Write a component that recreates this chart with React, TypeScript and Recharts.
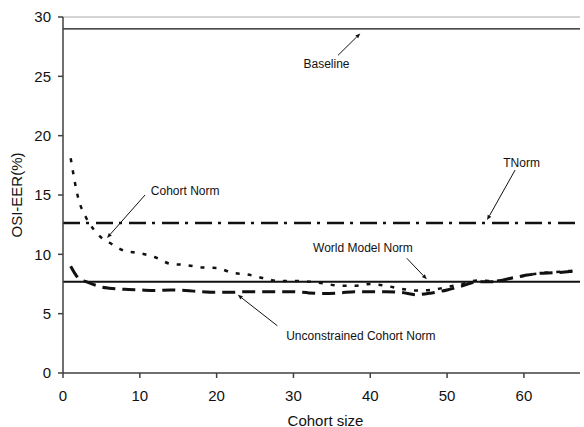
import React from 'react';
import { LineChart, Line, XAxis, YAxis, ReferenceLine, ReferenceDot } from 'recharts';

const cohortSizes = [1, 2, 3, 4, 5, 6, 8, 10, 12, 14, 16, 18, 20, 22, 24, 26, 28, 30, 32, 34, 36, 38, 40, 42, 44, 46, 48, 50, 52, 54, 56, 58, 60, 62, 64, 66, 67];
const cohortNorm = [18.1, 14.7, 13.1, 12.1, 11.4, 11.0, 10.3, 10.1, 9.75, 9.2, 9.1, 8.9, 8.85, 8.45, 8.3, 8.0, 7.75, 7.75, 7.7, 7.55, 7.35, 7.35, 7.5, 7.35, 7.1, 6.95, 7.0, 7.25, 7.5, 7.8, 7.75, 7.95, 8.2, 8.4, 8.5, 8.6, 8.65];
const unconstrainedCohortNorm = [9.0, 8.0, 7.7, 7.45, 7.25, 7.15, 7.05, 7.0, 6.95, 7.0, 6.95, 6.85, 6.8, 6.8, 6.85, 6.85, 6.85, 6.85, 6.75, 6.7, 6.75, 6.85, 6.85, 6.85, 6.8, 6.6, 6.75, 7.0, 7.35, 7.7, 7.7, 7.95, 8.2, 8.4, 8.45, 8.55, 8.6];

const baselineEER = 29;
const tnormEER = 12.65;
const worldModelEER = 7.7;

const xTicks = [0, 10, 20, 30, 40, 50, 60];
const yTicks = [0, 5, 10, 15, 20, 25, 30];

// annotations: label position and arrow (from -> to) in data units
const annotations = [
  { text: 'Baseline', lx: 34.3, ly: 26.07, fx: 35.8, fy: 26.77, tx: 38.7, ty: 28.62 },
  { text: 'TNorm', lx: 59.7, ly: 17.71, fx: 58.85, fy: 17.1, tx: 55.2, ty: 12.89 },
  { text: 'Cohort Norm', lx: 15.9, ly: 15.33, fx: 10.68, fy: 15.0, tx: 5.73, ty: 11.38 },
  { text: 'World Model Norm', lx: 39.05, ly: 10.56, fx: 44.75, fy: 9.67, tx: 47.36, ty: 7.9 },
  { text: 'Unconstrained Cohort Norm', lx: 38.78, ly: 3.08, fx: 27.9, fy: 3.98, tx: 22.75, ty: 6.59 },
];

const data = cohortSizes.map((s, i) => ({
  size: s,
  cohort: cohortNorm[i],
  unconstrained: unconstrainedCohortNorm[i],
}));

const FONT = '"Liberation Sans", Arial, sans-serif';

const Arrow = (p: any) => {
  const { x1, y1, x2, y2 } = p;
  const dx = x2 - x1;
  const dy = y2 - y1;
  const len = Math.sqrt(dx * dx + dy * dy) || 1;
  const ux = dx / len;
  const uy = dy / len;
  const hl = 5;
  const hw = 2;
  const bx = x2 - ux * hl;
  const by = y2 - uy * hl;
  const pts = `${x2},${y2} ${bx - uy * hw},${by + ux * hw} ${bx + uy * hw},${by - ux * hw}`;
  return (
    <g>
      <line x1={x1} y1={y1} x2={bx} y2={by} stroke="#111" strokeWidth={1} />
      <polygon points={pts} fill="#111" />
    </g>
  );
};

const makeLabel = (text: string) => (p: any) => (
  <text x={p.cx} y={p.cy} textAnchor="middle" dominantBaseline="central" fontFamily={FONT} fontSize={12} fill="#111">
    {text}
  </text>
);

const YLabel = (p: any) => {
  const vb = p.viewBox || { x: 0, y: 17, width: 63, height: 356 };
  const cx = vb.x + 16.5;
  const cy = vb.y + vb.height / 2;
  return (
    <text x={cx} y={cy} transform={`rotate(-90, ${cx}, ${cy})`} textAnchor="middle" dominantBaseline="central" fontFamily={FONT} fontSize={15} fill="#111">
      OSI-EER(%)
    </text>
  );
};

const XLabel = (p: any) => {
  const vb = p.viewBox || { x: 63, y: 373, width: 517, height: 54 };
  const cx = vb.x + vb.width / 2 + 4;
  const cy = vb.y + 47;
  return (
    <text x={cx} y={cy} textAnchor="middle" dominantBaseline="central" fontFamily={FONT} fontSize={15} fill="#111">
      Cohort size
    </text>
  );
};

export default function App() {
  return (
    <div style={{ position: 'absolute', left: 0, top: 0, background: '#fff' }}>
      <LineChart width={584} height={427} data={data} margin={{ top: 17, right: 4, left: 0, bottom: 0 }}>
        <XAxis
          type="number"
          dataKey="size"
          domain={[0, 67.3]}
          ticks={xTicks}
          allowDataOverflow
          height={54}
          tickSize={5}
          tickMargin={12}
          stroke="#404040"
          strokeWidth={1.5}
          tick={{ fill: '#111', fontSize: 15, fontFamily: FONT }}
          label={<XLabel />}
        />
        <YAxis
          type="number"
          domain={[0, 30]}
          ticks={yTicks}
          width={63}
          tickSize={5}
          tickMargin={7}
          stroke="#404040"
          strokeWidth={1.5}
          tick={{ fill: '#111', fontSize: 15, fontFamily: FONT }}
          label={<YLabel />}
        />
        <ReferenceLine y={30} stroke="#a8a8a8" strokeWidth={1} />
        <ReferenceLine y={baselineEER} stroke="#111" strokeWidth={1.2} />
        <ReferenceLine y={tnormEER} stroke="#111" strokeWidth={2.5} strokeDasharray="17 6 3 7" />
        <ReferenceLine y={worldModelEER} stroke="#111" strokeWidth={2} />
        <Line
          type="monotone"
          dataKey="cohort"
          stroke="#111"
          strokeWidth={2.5}
          strokeDasharray="4 8"
          dot={false}
          isAnimationActive={false}
        />
        <Line
          type="monotone"
          dataKey="unconstrained"
          stroke="#111"
          strokeWidth={3}
          strokeDasharray="13 7"
          dot={false}
          isAnimationActive={false}
        />
        {annotations.map((a) => (
          <ReferenceLine
            key={'arrow-' + a.text}
            segment={[{ x: a.fx, y: a.fy }, { x: a.tx, y: a.ty }]}
            shape={Arrow}
          />
        ))}
        {annotations.map((a) => (
          <ReferenceDot key={'label-' + a.text} x={a.lx} y={a.ly} r={0} shape={makeLabel(a.text)} />
        ))}
      </LineChart>
    </div>
  );
}
